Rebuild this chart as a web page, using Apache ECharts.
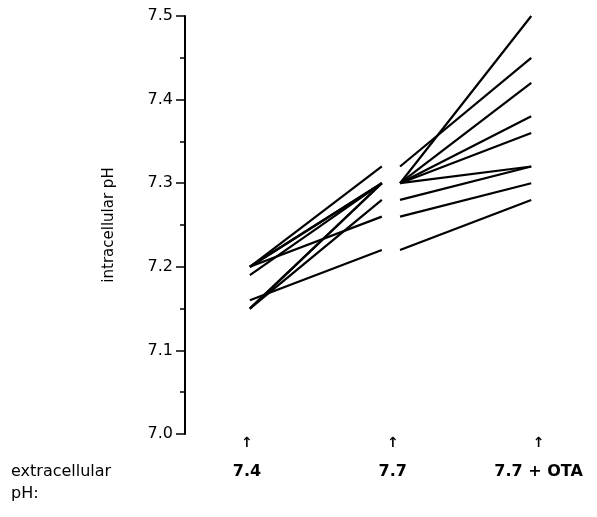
<!DOCTYPE html>
<html>
<head>
<meta charset="utf-8">
<script src="https://cdn.jsdelivr.net/npm/echarts@6/dist/echarts.min.js"></script>
<style>
html,body{margin:0;padding:0;background:#fff;}
#chart{width:597px;height:517px;}
</style>
</head>
<body>
<div id="chart"></div>
<script>
// Conditions (extracellular pH) and their x positions
const categories = ['7.4', '7.7', '7.7 + OTA'];
// Intracellular pH of each cell under each condition
const phAt74 = [7.20, 7.20, 7.19, 7.15, 7.20, 7.15, 7.15, 7.20, 7.16];
const phAt77 = [7.32, 7.30, 7.30, 7.30, 7.30, 7.30, 7.28, 7.26, 7.22];
const phAtOTA = [7.45, 7.50, 7.42, 7.38, 7.36, 7.32, 7.32, 7.30, 7.28];
const yTicks = [7.0, 7.1, 7.2, 7.3, 7.4, 7.5];

// layout constants: segments stop short of the category positions
const seg1 = [0.02, 0.925];
const seg2 = [1.05, 1.95];

const series = [];
for (let i = 0; i < phAt74.length; i++) {
  series.push({
    type: 'line', showSymbol: false, silent: true,
    lineStyle: { color: '#000', width: 2.2 },
    data: [[seg1[0], phAt74[i]], [seg1[1], phAt77[i]]]
  });
  series.push({
    type: 'line', showSymbol: false, silent: true,
    lineStyle: { color: '#000', width: 2.2 },
    data: [[seg2[0], phAt77[i]], [seg2[1], phAtOTA[i]]]
  });
}

const font = 'DejaVu Sans';
const chart = echarts.init(document.getElementById('chart'), null, { renderer: 'canvas' });
chart.setOption({
  animation: false,
  backgroundColor: '#fff',
  textStyle: { fontFamily: font, color: '#000' },
  title: {
    text: 'extracellular\npH:',
    left: 6, top: 456,
    textStyle: { fontFamily: font, fontSize: 16, fontWeight: 'normal', color: '#000', lineHeight: 22 }
  },
  grid: { left: 185, right: 22, top: 16, bottom: 83 },
  xAxis: {
    type: 'value', min: -0.425, max: 2.25,
    axisLine: { show: false }, axisTick: { show: false }, splitLine: { show: false },
    axisLabel: {
      customValues: [0, 1, 2],
      margin: 1,
      formatter: v => '{a|↑}\n{b|' + categories[Math.round(v)] + '}',
      rich: {
        a: { fontFamily: font, fontSize: 14, lineHeight: 16, color: '#000', fontWeight: 'bold' },
        b: { fontFamily: font, fontSize: 16, lineHeight: 29, color: '#000', fontWeight: 'bold', verticalAlign: 'bottom' }
      }
    }
  },
  yAxis: {
    type: 'value', min: 7.0, max: 7.5, interval: 0.1,
    name: 'intracellular pH', nameLocation: 'middle', nameRotate: 90, nameGap: 68,
    nameTextStyle: { fontFamily: font, fontSize: 15, color: '#000' },
    axisLine: { show: true, onZero: false, lineStyle: { color: '#000', width: 2 } },
    axisTick: { show: true, length: 9, lineStyle: { color: '#000', width: 1.5 } },
    minorTick: { show: true, splitNumber: 2, length: 5, lineStyle: { color: '#000', width: 1.5 } },
    splitLine: { show: false },
    axisLabel: {
      margin: 12, fontFamily: font, fontSize: 16, color: '#000',
      formatter: v => v.toFixed(1)
    }
  },
  series: series
});
</script>
</body>
</html>
